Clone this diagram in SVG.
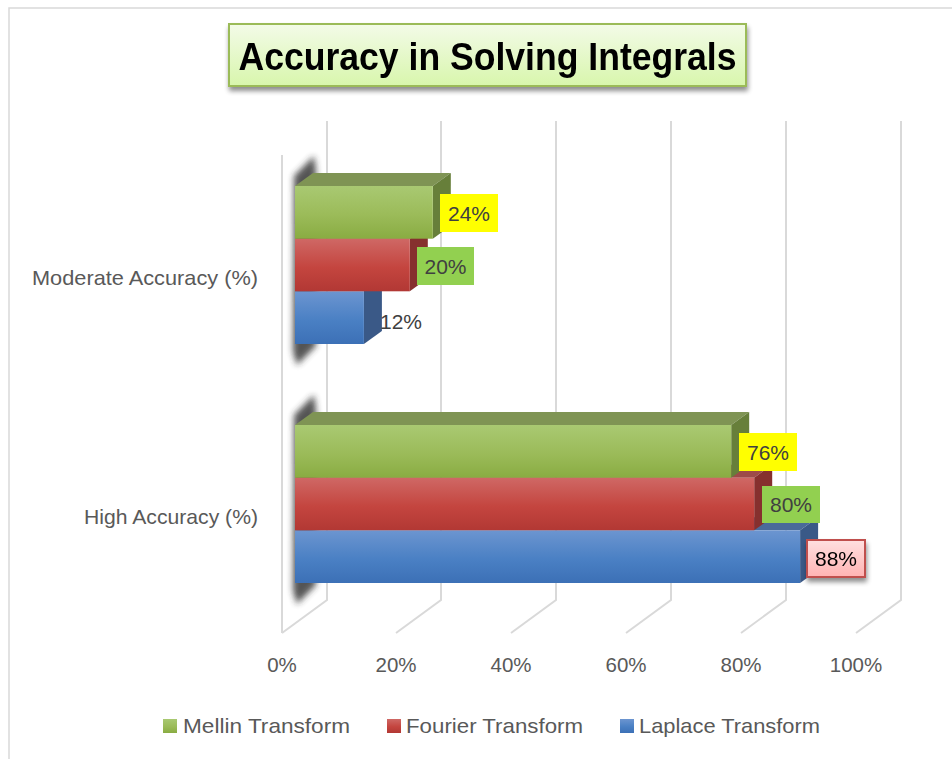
<svg xmlns="http://www.w3.org/2000/svg" width="952" height="759" viewBox="0 0 952 759">
  <defs>
    <style>
      .grid { stroke: #d9d9d9; stroke-width: 2; fill: none; }
      .axis { font-family: "Liberation Sans", Arial, sans-serif; font-size: 20.5px; fill: #595959; text-anchor: middle; }
      .cat { font-family: "Liberation Sans", Arial, sans-serif; font-size: 21px; fill: #595959; text-anchor: end; }
      .leg { font-family: "Liberation Sans", Arial, sans-serif; font-size: 21px; fill: #595959; }
      .val { font-family: "Liberation Sans", Arial, sans-serif; font-size: 21px; fill: #404040; text-anchor: middle; }
      .title { font-family: "Liberation Sans", Arial, sans-serif; font-size: 39px; font-weight: bold; fill: #000; text-anchor: middle; }
      .gTop { fill: #7f9454; }
      .gSide { fill: #677f3a; }
      .rTop { fill: #9d4b49; }
      .rSide { fill: #86302e; }
      .bTop { fill: #4a6a99; }
      .bSide { fill: #3a5987; }
    </style>
    <linearGradient id="gFront" x1="0" y1="0" x2="0" y2="1">
      <stop offset="0" stop-color="#a9c972"/>
      <stop offset="0.55" stop-color="#9bbb59"/>
      <stop offset="1" stop-color="#89ac42"/>
    </linearGradient>
    <linearGradient id="rFront" x1="0" y1="0" x2="0" y2="1">
      <stop offset="0" stop-color="#cf6865"/>
      <stop offset="0.55" stop-color="#c4453f"/>
      <stop offset="1" stop-color="#b23834"/>
    </linearGradient>
    <linearGradient id="bFront" x1="0" y1="0" x2="0" y2="1">
      <stop offset="0" stop-color="#6c95d0"/>
      <stop offset="0.55" stop-color="#4a80c4"/>
      <stop offset="1" stop-color="#3c70b6"/>
    </linearGradient>
    <linearGradient id="titleFill" x1="0" y1="0" x2="0" y2="1">
      <stop offset="0" stop-color="#f3fbe8"/>
      <stop offset="1" stop-color="#d8f6ac"/>
    </linearGradient>
    <linearGradient id="pinkFill" x1="0" y1="0" x2="0" y2="1">
      <stop offset="0" stop-color="#ffe0e0"/>
      <stop offset="1" stop-color="#ffb3b3"/>
    </linearGradient>
    <filter id="soft" x="-50%" y="-50%" width="200%" height="200%">
      <feGaussianBlur stdDeviation="3"/>
    </filter>
    <filter id="drop" x="-20%" y="-40%" width="140%" height="180%">
      <feGaussianBlur in="SourceAlpha" stdDeviation="2.5"/>
      <feOffset dx="1" dy="4" result="b"/>
      <feComponentTransfer><feFuncA type="linear" slope="0.45"/></feComponentTransfer>
      <feMerge><feMergeNode/><feMergeNode in="SourceGraphic"/></feMerge>
    </filter>
  </defs>

  <rect width="952" height="759" fill="#ffffff"/>
  <!-- chart frame -->
  <path d="M9,759 V8 H952" fill="none" stroke="#d9d9d9" stroke-width="1.5"/>

  <!-- walls and floor gridlines -->
  <g id="gridlines">
    <path class="grid" d="M282,155 V633"/>
    <path class="grid" d="M327,121 V600 L282,633"/>
    <path class="grid" d="M441,121 V600 L396,633"/>
    <path class="grid" d="M556,121 V600 L511,633"/>
    <path class="grid" d="M671,121 V600 L626,633"/>
    <path class="grid" d="M786,121 V600 L741,633"/>
    <path class="grid" d="M901,121 V600 L856,633"/>
  </g>

  <!-- title -->
  <g id="title" filter="url(#drop)">
    <rect x="229" y="24" width="517" height="62" fill="url(#titleFill)" stroke="#9bbb59" stroke-width="2"/>
    <text class="title" x="487.5" y="70" textLength="498" lengthAdjust="spacingAndGlyphs">Accuracy in Solving Integrals</text>
  </g>

  <!-- Moderate Accuracy group -->
  <g id="moderate">
    <polygon points="294,176 314,156 316,170 316,346 297,365 293,352" fill="#2b2b2b" opacity="0.8" filter="url(#soft)"/>
    <g id="moderate-laplace">
      <polygon class="bTop" points="295,291.3 313,278.3 381.9,278.3 363.9,291.3"/>
      <polygon class="bSide" points="363.9,291.3 381.9,278.3 381.9,331 363.9,344"/>
      <rect x="295" y="291.3" width="68.9" height="52.7" fill="url(#bFront)"/>
    </g>
    <g id="moderate-fourier">
      <polygon class="rTop" points="295,238.7 313,225.7 427.8,225.7 409.8,238.7"/>
      <polygon class="rSide" points="409.8,238.7 427.8,225.7 427.8,278.3 409.8,291.3"/>
      <rect x="295" y="238.7" width="114.8" height="52.6" fill="url(#rFront)"/>
    </g>
    <g id="moderate-mellin">
      <polygon class="gTop" points="295,186 313,173 450.8,173 432.8,186"/>
      <polygon class="gSide" points="432.8,186 450.8,173 450.8,225.7 432.8,238.7"/>
      <rect x="295" y="186" width="137.8" height="52.7" fill="url(#gFront)"/>
    </g>
    <text class="cat" x="258" y="285" textLength="226" lengthAdjust="spacingAndGlyphs">Moderate Accuracy (%)</text>
  </g>

  <!-- High Accuracy group -->
  <g id="high">
    <polygon points="294,415 314,395 316,409 316,585 297,604 293,591" fill="#2b2b2b" opacity="0.8" filter="url(#soft)"/>
    <g id="high-laplace">
      <polygon class="bTop" points="295,530.3 313,517.3 818.1,517.3 800.1,530.3"/>
      <polygon class="bSide" points="800.1,530.3 818.1,517.3 818.1,570 800.1,583"/>
      <rect x="295" y="530.3" width="505.1" height="52.7" fill="url(#bFront)"/>
    </g>
    <g id="high-fourier">
      <polygon class="rTop" points="295,477.7 313,464.7 772.2,464.7 754.2,477.7"/>
      <polygon class="rSide" points="754.2,477.7 772.2,464.7 772.2,517.3 754.2,530.3"/>
      <rect x="295" y="477.7" width="459.2" height="52.6" fill="url(#rFront)"/>
    </g>
    <g id="high-mellin">
      <polygon class="gTop" points="295,425 313,412 749.2,412 731.2,425"/>
      <polygon class="gSide" points="731.2,425 749.2,412 749.2,464.7 731.2,477.7"/>
      <rect x="295" y="425" width="436.2" height="52.7" fill="url(#gFront)"/>
    </g>
    <text class="cat" x="258" y="524" textLength="174" lengthAdjust="spacingAndGlyphs">High Accuracy (%)</text>
  </g>

  <!-- data labels -->
  <g id="labels">
    <g id="label-24">
      <rect x="440" y="194" width="58" height="38" fill="#ffff00"/>
      <text class="val" x="469" y="220.5">24%</text>
    </g>
    <g id="label-20">
      <rect x="417" y="247" width="57" height="38" fill="#92d050"/>
      <text class="val" x="445.5" y="273.5">20%</text>
    </g>
    <g id="label-12">
      <text class="val" x="401" y="328.5">12%</text>
    </g>
    <g id="label-76">
      <rect x="739" y="433" width="58" height="38" fill="#ffff00"/>
      <text class="val" x="768" y="459.5">76%</text>
    </g>
    <g id="label-80">
      <rect x="762" y="486" width="58" height="37" fill="#92d050"/>
      <text class="val" x="791" y="512">80%</text>
    </g>
    <g id="label-88" filter="url(#drop)">
      <rect x="807" y="540" width="58" height="37" fill="url(#pinkFill)" stroke="#c0504d" stroke-width="2"/>
      <text class="val" x="836" y="566" style="fill:#000">88%</text>
    </g>
  </g>

  <!-- value axis -->
  <g id="axis">
    <text class="axis" x="282" y="672">0%</text>
    <text class="axis" x="396" y="672">20%</text>
    <text class="axis" x="511" y="672">40%</text>
    <text class="axis" x="626" y="672">60%</text>
    <text class="axis" x="741" y="672">80%</text>
    <text class="axis" x="856" y="672">100%</text>
  </g>

  <!-- legend -->
  <g id="legend">
    <rect x="163" y="719" width="14" height="14" fill="url(#gFront)"/>
    <text class="leg" x="183" y="733" textLength="167" lengthAdjust="spacingAndGlyphs">Mellin Transform</text>
    <rect x="387" y="719" width="14" height="14" fill="url(#rFront)"/>
    <text class="leg" x="406" y="733" textLength="177" lengthAdjust="spacingAndGlyphs">Fourier Transform</text>
    <rect x="620" y="719" width="14" height="14" fill="url(#bFront)"/>
    <text class="leg" x="639" y="733" textLength="181" lengthAdjust="spacingAndGlyphs">Laplace Transform</text>
  </g>
</svg>
